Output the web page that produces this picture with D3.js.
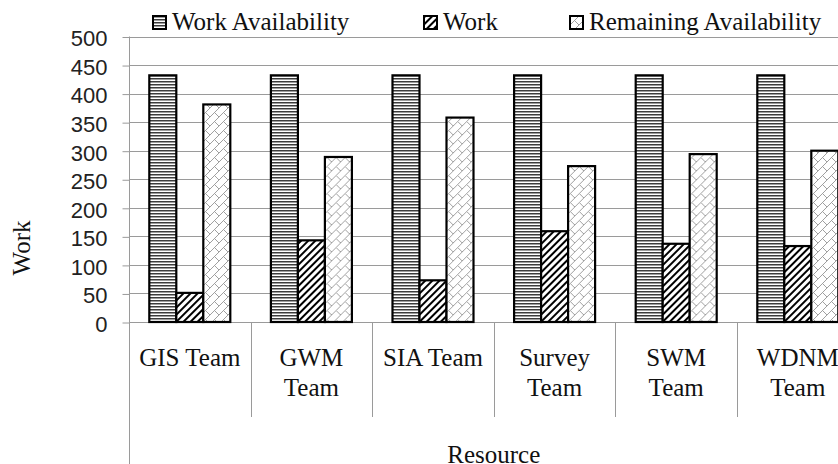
<!DOCTYPE html>
<meta charset="utf-8">
<html>
<script src="https://d3js.org/d3.v7.min.js"></script>
<body style="margin:0;background:#fff;">
<div id="chart"></div>
<script>
    // data
    var teams = ["GIS Team", "GWM Team", "SIA Team", "Survey Team", "SWM Team", "WDNM Team"];
    var seriesNames = ["Work Availability", "Work", "Remaining Availability"];
    var workAvailability = [432, 432, 432, 432, 432, 432];
    var work = [51, 143, 73, 159, 137, 133];
    var remainingAvailability = [381, 289, 358, 273, 294, 300];
    var yTicks = [0, 50, 100, 150, 200, 250, 300, 350, 400, 450, 500];

    var W = 838, H = 464;
    var plotLeft = 129, plotTop = 36.5, plotBottom = 322;
    var bandW = 121.6;
    var gridColor = "#9a9a9a";
    var serif = "'Liberation Serif', 'Times New Roman', serif";

    var svg = d3.select("#chart").append("svg")
        .attr("width", W)
        .attr("height", H)
        .style("display", "block");

    // patterns
    var defs = svg.append("defs");
    var pHoriz = defs.append("pattern").attr("id", "pHoriz")
        .attr("patternUnits", "userSpaceOnUse").attr("width", 4).attr("height", 3);
    pHoriz.append("rect").attr("width", 4).attr("height", 3).attr("fill", "#fff");
    pHoriz.append("rect").attr("y", 0).attr("width", 4).attr("height", 1.5).attr("fill", "#3c3c3c");

    var pDiag = defs.append("pattern").attr("id", "pDiag")
        .attr("patternUnits", "userSpaceOnUse").attr("width", 5).attr("height", 5)
        .attr("patternTransform", "rotate(45)");
    pDiag.append("rect").attr("width", 5).attr("height", 5).attr("fill", "#fff");
    pDiag.append("line").attr("x1", 1).attr("y1", 0).attr("x2", 1).attr("y2", 5)
        .attr("stroke", "#000").attr("stroke-width", 2);

    var pBrick = defs.append("pattern").attr("id", "pBrick")
        .attr("patternUnits", "userSpaceOnUse").attr("width", 9).attr("height", 9);
    pBrick.append("rect").attr("width", 9).attr("height", 9).attr("fill", "#fff");
    pBrick.append("path").attr("d", "M0,9 L9,0 M4.5,4.5 L9,9")
        .attr("stroke", "#a0a0a0").attr("stroke-width", 1).attr("fill", "none");

    var fills = {"Work Availability": "url(#pHoriz)", "Work": "url(#pDiag)", "Remaining Availability": "url(#pBrick)"};

    // scales
    var y = d3.scaleLinear().domain([0, 500]).range([plotBottom, plotTop]);
    var x = d3.scaleBand().domain(teams).range([plotLeft, plotLeft + bandW * teams.length]);
    var xs = d3.scaleBand().domain(seriesNames).range([20.3, bandW - 20.3]);

    // gridlines
    svg.append("g").selectAll("line")
        .data(yTicks)
        .enter().append("line")
        .attr("x1", plotLeft).attr("x2", W)
        .attr("y1", function(d) { return Math.round(y(d)) + 0.5; })
        .attr("y2", function(d) { return Math.round(y(d)) + 0.5; })
        .attr("stroke", gridColor).attr("stroke-width", 1);

    // y axis
    var yAxis = svg.append("g")
        .attr("transform", "translate(" + (plotLeft + 0.5) + ",0.5)")
        .call(d3.axisLeft(y).tickValues(yTicks).tickSize(7).tickPadding(15).tickSizeOuter(0));
    yAxis.select(".domain").remove();
    yAxis.selectAll(".tick line").attr("stroke", gridColor);
    yAxis.selectAll(".tick text")
        .attr("dy", "0.4em")
        .style("font-family", "'Liberation Sans', Arial, sans-serif")
        .style("font-size", "22px")
        .attr("fill", "#222");

    // vertical axis line and category dividers
    svg.append("line")
        .attr("x1", plotLeft + 0.5).attr("x2", plotLeft + 0.5)
        .attr("y1", plotTop).attr("y2", H)
        .attr("stroke", gridColor);
    svg.append("g").selectAll("line")
        .data(teams.slice(1))
        .enter().append("line")
        .attr("x1", function(d) { return Math.round(x(d)) + 0.5; })
        .attr("x2", function(d) { return Math.round(x(d)) + 0.5; })
        .attr("y1", plotBottom).attr("y2", 417)
        .attr("stroke", gridColor);

    // bars
    var rows = teams.map(function(t, i) {
        return {team: t, values: [workAvailability[i], work[i], remainingAvailability[i]]};
    });
    var groups = svg.append("g").selectAll("g")
        .data(rows)
        .enter().append("g")
        .attr("transform", function(d) { return "translate(" + x(d.team) + ",0)"; });
    groups.selectAll("rect")
        .data(function(d) { return d.values.map(function(v, j) { return {name: seriesNames[j], value: v}; }); })
        .enter().append("rect")
        .attr("x", function(d) { return xs(d.name); })
        .attr("width", xs.bandwidth())
        .attr("y", function(d) { return y(d.value); })
        .attr("height", function(d) { return y(0) - y(d.value); })
        .attr("fill", function(d) { return fills[d.name]; })
        .attr("stroke", "#000")
        .attr("stroke-width", 2.2);

    // category labels, wrapped like the original
    var catLabels = svg.append("g").selectAll("text")
        .data(teams)
        .enter().append("text")
        .attr("text-anchor", "middle")
        .style("font-family", serif)
        .style("font-size", "25px")
        .attr("fill", "#111");
    catLabels.each(function(t) {
        var el = d3.select(this);
        var cx = x(t) + x.bandwidth() / 2;
        el.text(t);
        var lines = this.getComputedTextLength() > bandW - 14 ? t.split(" ") : [t];
        el.text(null);
        lines.forEach(function(line, k) {
            el.append("tspan").attr("x", cx).attr("y", 366 + k * 30).text(line);
        });
    });

    // axis titles
    svg.append("text")
        .attr("transform", "translate(30,248) rotate(-90)")
        .attr("text-anchor", "middle")
        .style("font-family", serif).style("font-size", "25px")
        .attr("fill", "#111")
        .text("Work");
    svg.append("text")
        .attr("x", x.range()[0] + (x.range()[1] - x.range()[0]) / 2)
        .attr("y", 463)
        .attr("text-anchor", "middle")
        .style("font-family", serif).style("font-size", "25px")
        .attr("fill", "#111")
        .text("Resource");

    // legend
    var legendX = [153, 424, 570];
    var legend = svg.append("g").selectAll("g")
        .data(seriesNames)
        .enter().append("g")
        .attr("transform", function(d, i) { return "translate(" + legendX[i] + ",16)"; });
    legend.append("rect")
        .attr("width", 13).attr("height", 13)
        .attr("fill", function(d) { return fills[d]; })
        .attr("stroke", "#000").attr("stroke-width", 2);
    legend.append("text")
        .attr("x", 19).attr("y", 14)
        .style("font-family", serif).style("font-size", "25px")
        .attr("fill", "#111")
        .text(function(d) { return d; });
</script>
</body>
</html>
